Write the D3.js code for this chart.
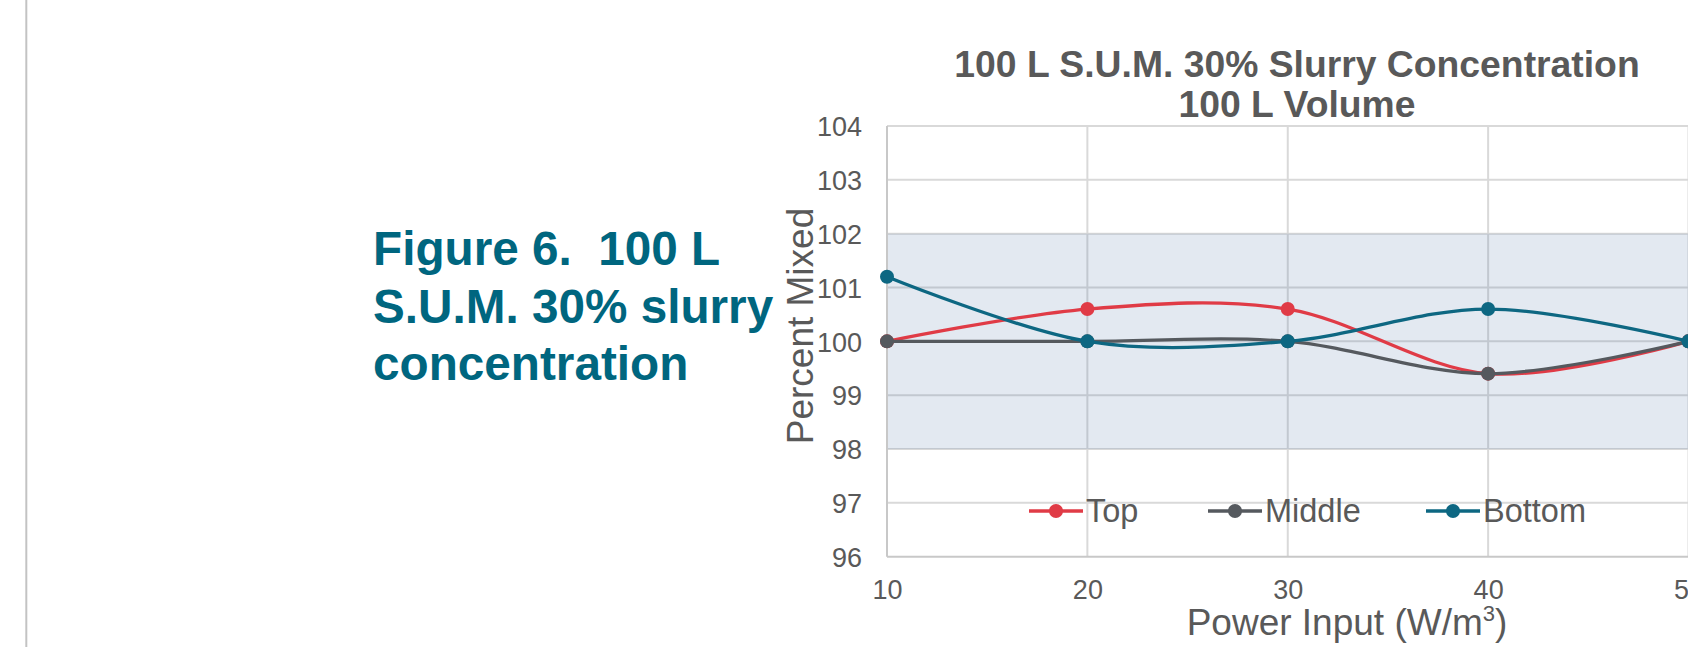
<!DOCTYPE html>
<html>
<head>
<meta charset="utf-8">
<script src="https://cdn.jsdelivr.net/npm/d3@7"></script>
<style>
  html, body { margin: 0; padding: 0; background: #fff; overflow: hidden; }
  svg { display: block; font-family: "Liberation Sans", Arial, sans-serif; }
</style>
</head>
<body>
<svg id="chart" width="1688" height="647"></svg>
<script>
// ---- data ----
const powerInput = [10, 20, 30, 40, 50];
const topValues = [100, 100.6, 100.6, 99.4, 100];
const middleValues = [100, 100, 100, 99.4, 100];
const bottomValues = [101.2, 100, 100, 100.6, 100];
const seriesNames = ["Top", "Middle", "Bottom"];
const seriesColors = ["#e03b46", "#55595e", "#0d6782"];
const yTickValues = [96, 97, 98, 99, 100, 101, 102, 103, 104];
const xTickValues = [10, 20, 30, 40, 50];
const targetBand = [98, 102];
const chartTitle = ["100 L S.U.M. 30% Slurry Concentration", "100 L Volume"];
const figureCaption = ["Figure 6.  100 L", "S.U.M. 30% slurry", "concentration"];

const svg = d3.select("#chart");
const textGray = "#595959";

// page rule on left
svg.append("line").attr("x1", 26.3).attr("x2", 26.3).attr("y1", 0).attr("y2", 647)
  .attr("stroke", "#c3c3c3").attr("stroke-width", 2);

// caption
const cap = svg.append("text").attr("font-size", 47.7).attr("font-weight", "bold").attr("fill", "#00667f");
figureCaption.forEach((t, i) => {
  cap.append("tspan").attr("x", 373).attr("y", 265 + i * 57.5).attr("xml:space", "preserve").text(t);
});

// scales
const x = d3.scaleLinear().domain([10, 50]).range([887, 1688.5]);
const y = d3.scaleLinear().domain([96, 104]).range([556.7, 126]);

// gridlines
const grid = svg.append("g");
grid.selectAll("line.h").data(yTickValues.filter(v => v !== 96)).join("line")
  .attr("x1", x(10)).attr("x2", 1700).attr("y1", d => y(d)).attr("y2", d => y(d))
  .attr("stroke", "#d9d9d9").attr("stroke-width", 2);
grid.selectAll("line.v").data(xTickValues.filter(v => v !== 10)).join("line")
  .attr("x1", d => x(d)).attr("x2", d => x(d)).attr("y1", y(104)).attr("y2", y(96))
  .attr("stroke", "#d9d9d9").attr("stroke-width", 2);

// band
svg.append("rect").attr("x", x(10)).attr("width", 1700 - x(10))
  .attr("y", y(targetBand[1])).attr("height", y(targetBand[0]) - y(targetBand[1]))
  .attr("fill", "rgba(70,110,160,0.15)");

// axis lines
svg.append("line").attr("x1", x(10)).attr("x2", x(10)).attr("y1", y(104)).attr("y2", y(96))
  .attr("stroke", "#c8c8c8").attr("stroke-width", 2);
svg.append("line").attr("x1", x(10)).attr("x2", 1700).attr("y1", y(96)).attr("y2", y(96))
  .attr("stroke", "#c8c8c8").attr("stroke-width", 2);

// axes tick labels
const yAxis = svg.append("g").attr("transform", `translate(${x(10)},0)`)
  .call(d3.axisLeft(y).tickValues(yTickValues).tickFormat(d3.format("d")).tickSize(0).tickPadding(25));
yAxis.select(".domain").remove();
yAxis.selectAll("text").attr("font-size", 27).attr("fill", textGray).attr("dy", "0.36em")
  .attr("font-family", "Liberation Sans, Arial, sans-serif");

const xAxis = svg.append("g").attr("transform", `translate(0,${y(96)})`)
  .call(d3.axisBottom(x).tickValues(xTickValues).tickFormat(d3.format("d")).tickSize(0).tickPadding(23));
xAxis.select(".domain").remove();
xAxis.selectAll("text").attr("font-size", 27).attr("fill", textGray)
  .attr("font-family", "Liberation Sans, Arial, sans-serif");

// axis titles
svg.append("text").attr("transform", "translate(812.7,326) rotate(-90)")
  .attr("text-anchor", "middle").attr("font-size", 37).attr("fill", textGray).text("Percent Mixed");
const xt = svg.append("text").attr("x", 1347).attr("y", 635).attr("text-anchor", "middle")
  .attr("font-size", 37).attr("fill", textGray);
xt.append("tspan").text("Power Input (W/m");
xt.append("tspan").attr("font-size", 22).attr("dy", -14).text("3");
xt.append("tspan").attr("dy", 14).text(")");

// chart title
const title = svg.append("text").attr("text-anchor", "middle").attr("font-size", 37.3)
  .attr("font-weight", "bold").attr("fill", textGray);
chartTitle.forEach((t, i) => {
  title.append("tspan").attr("x", 1297).attr("y", 77 + i * 40).text(t);
});

// series
const allSeries = [topValues, middleValues, bottomValues];
const line = d3.line().x((d, i) => x(powerInput[i])).y(d => y(d)).curve(d3.curveCardinal.tension(0));
const plot = svg.append("g");
allSeries.forEach((vals, s) => {
  const g = plot.append("g");
  g.append("path").datum(vals).attr("d", line).attr("fill", "none")
    .attr("stroke", seriesColors[s]).attr("stroke-width", 3.3).attr("stroke-linejoin", "round");
  g.selectAll("circle").data(vals).join("circle")
    .attr("cx", (d, i) => x(powerInput[i])).attr("cy", d => y(d)).attr("r", 7)
    .attr("fill", seriesColors[s]);
});

// legend
const legendX = [1029, 1208, 1426];
const legendY = 511;
seriesNames.forEach((name, s) => {
  const g = svg.append("g");
  g.append("line").attr("x1", legendX[s]).attr("x2", legendX[s] + 54)
    .attr("y1", legendY).attr("y2", legendY).attr("stroke", seriesColors[s]).attr("stroke-width", 3.3);
  g.append("circle").attr("cx", legendX[s] + 27).attr("cy", legendY).attr("r", 7).attr("fill", seriesColors[s]);
  g.append("text").attr("x", legendX[s] + 57).attr("y", 522).attr("font-size", 32.5)
    .attr("fill", textGray).text(name);
});
</script>
</body>
</html>
